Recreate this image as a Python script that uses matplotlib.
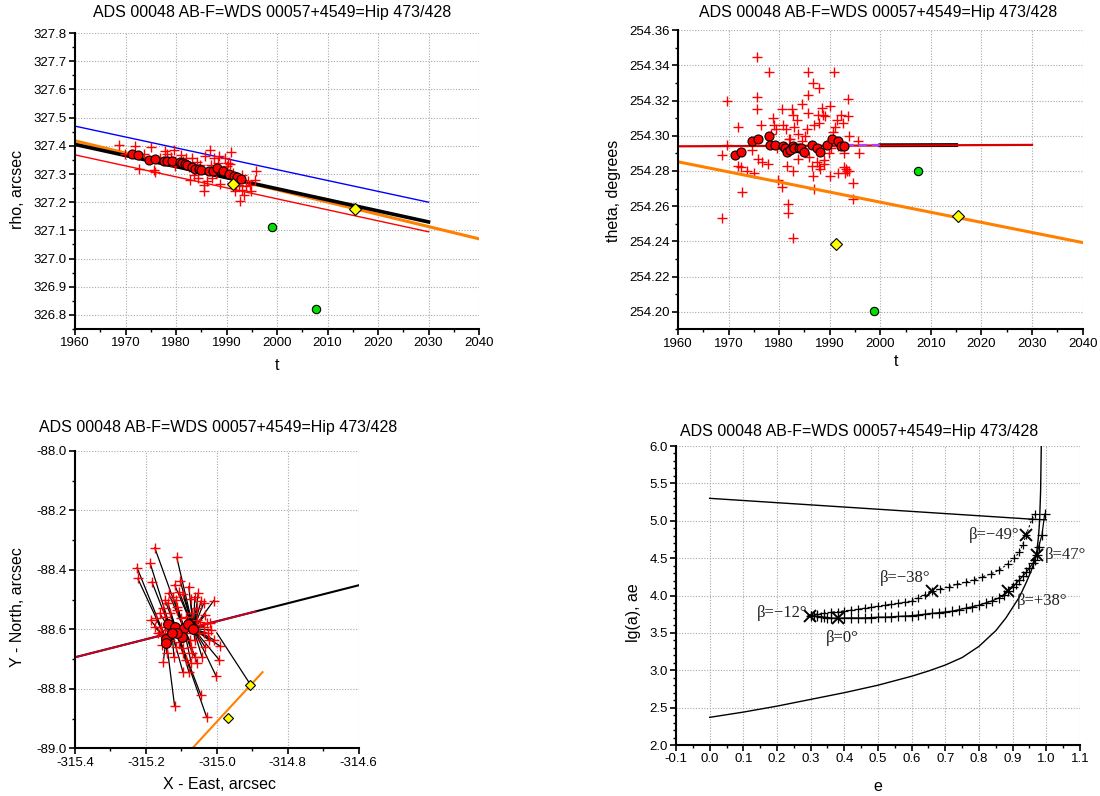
import numpy as np
import matplotlib
matplotlib.use('Agg')
import matplotlib.pyplot as plt
from matplotlib.ticker import MultipleLocator, FormatStrFormatter

plt.rcParams['font.family'] = ['Liberation Sans', 'DejaVu Sans']
plt.rcParams['axes.unicode_minus'] = False

TITLE = "ADS 00048 AB-F=WDS 00057+4549=Hip 473/428"

# ---------------- Panel 1: rho vs t ----------------
rho_obs_t = [1968.8, 1969.9, 1971.8, 1972.6, 1973.7, 1975.1, 1975.6, 1975.8, 1976.8, 1977.8,
             1978.2, 1979.1, 1979.7, 1979.9, 1981.0, 1981.3, 1982.0, 1982.6, 1982.7, 1983.1,
             1983.5, 1984.1, 1984.3, 1984.8, 1985.5, 1985.6, 1985.8, 1986.2, 1986.7, 1986.9,
             1987.2, 1987.6, 1987.9, 1988.3, 1988.6, 1988.8, 1989.7, 1990.0, 1990.3, 1990.7,
             1990.9, 1991.0, 1991.2, 1991.6, 1991.9, 1992.1, 1992.4, 1992.6, 1993.0, 1993.1,
             1993.5, 1993.8, 1994.2, 1994.9, 1994.7, 1995.6, 1995.8]
rho_obs = [327.403, 327.372, 327.398, 327.318, 327.371, 327.397, 327.313, 327.308, 327.357, 327.380,
           327.372, 327.360, 327.384, 327.327, 327.368, 327.347, 327.356, 327.325, 327.280, 327.356,
           327.298, 327.341, 327.286, 327.333, 327.262, 327.239, 327.363, 327.274, 327.386, 327.333,
           327.286, 327.357, 327.304, 327.339, 327.363, 327.265, 327.357, 327.327, 327.339, 327.337,
           327.379, 327.268, 327.304, 327.239, 327.256, 327.274, 327.262, 327.203, 327.298, 327.244,
           327.227, 327.256, 327.274, 327.239, 327.262, 327.280, 327.309]
rho_norm_t = [1971.3, 1972.5, 1974.7, 1975.8, 1977.7, 1978.3, 1979.2, 1980.7, 1981.2, 1981.7,
              1982.2, 1983.1, 1983.8, 1984.5, 1985.0, 1986.5, 1987.3, 1988.1, 1989.4, 1990.4,
              1991.5, 1992.1, 1992.8]
rho_norm = [327.372, 327.367, 327.351, 327.352, 327.348, 327.348, 327.348, 327.341, 327.338, 327.334,
            327.331, 327.324, 327.319, 327.317, 327.314, 327.311, 327.311, 327.321, 327.311, 327.301,
            327.294, 327.288, 327.282]
rho_green_t = [1999.0, 2007.7]
rho_green = [327.112, 326.822]
rho_hip_t = [1991.3, 2015.5]
rho_hip = [327.266, 327.175]
rho_blue_t, rho_blue = [1960, 2030], [327.470, 327.200]
rho_red_t, rho_red = [1960, 2030], [327.368, 327.095]
rho_black_t, rho_black = [1960, 2030], [327.405, 327.130]
rho_orange_t, rho_orange = [1960, 2040], [327.418, 327.070]

# ---------------- Panel 2: theta vs t ----------------
th_obs_t = [1968.7, 1968.7, 1969.7, 1969.7, 1971.8, 1971.8, 1972.5, 1972.7, 1973.7, 1974.7,
            1975.1, 1975.6, 1975.6, 1975.6, 1975.8, 1976.5, 1976.7, 1977.7, 1978.0, 1978.4,
            1978.7, 1978.9, 1979.4, 1979.8, 1979.6, 1980.5, 1980.6, 1980.8, 1981.3, 1981.6,
            1981.7, 1981.7, 1981.9, 1982.1, 1982.6, 1982.7, 1982.8, 1982.8, 1983.0, 1983.5,
            1983.7, 1983.8, 1984.5, 1984.6, 1985.2, 1985.5, 1985.7, 1985.8, 1985.8, 1985.9,
            1986.4, 1986.6, 1986.7, 1986.9, 1986.9, 1987.4, 1987.6, 1987.8, 1987.8, 1987.9,
            1988.1, 1988.4, 1988.7, 1988.8, 1988.8, 1989.0, 1989.8, 1990.0, 1990.0, 1990.2,
            1990.7, 1990.9, 1991.0, 1991.4, 1991.6, 1991.6, 1992.3, 1992.6, 1992.8, 1992.8,
            1993.0, 1993.3, 1993.5, 1993.7, 1993.7, 1993.8, 1993.8, 1994.7, 1994.7, 1995.6,
            1995.7]
th_obs = [254.289, 254.253, 254.320, 254.295, 254.305, 254.283, 254.282, 254.268, 254.280, 254.292,
          254.279, 254.345, 254.322, 254.315, 254.287, 254.306, 254.285, 254.284, 254.336, 254.301,
          254.310, 254.306, 254.304, 254.275, 254.293, 254.271, 254.315, 254.306, 254.304, 254.283,
          254.261, 254.256, 254.298, 254.298, 254.315, 254.312, 254.280, 254.242, 254.305, 254.309,
          254.287, 254.301, 254.318, 254.297, 254.300, 254.304, 254.323, 254.336, 254.313, 254.288,
          254.283, 254.277, 254.330, 254.306, 254.270, 254.285, 254.312, 254.327, 254.283, 254.307,
          254.281, 254.316, 254.312, 254.286, 254.284, 254.311, 254.290, 254.317, 254.277, 254.293,
          254.302, 254.336, 254.305, 254.309, 254.294, 254.279, 254.312, 254.307, 254.290, 254.282,
          254.279, 254.281, 254.280, 254.321, 254.311, 254.300, 254.280, 254.273, 254.264, 254.297,
          254.290]
th_norm_t = [1971.3, 1972.5, 1974.7, 1975.8, 1977.9, 1978.2, 1979.2, 1980.7, 1981.1, 1981.6,
             1982.1, 1982.7, 1983.0, 1983.9, 1984.4, 1985.0, 1986.5, 1987.4, 1988.1, 1989.5,
             1990.4, 1991.6, 1992.3, 1992.8]
th_norm = [254.289, 254.291, 254.297, 254.298, 254.300, 254.295, 254.295, 254.294, 254.293, 254.291,
           254.292, 254.294, 254.293, 254.293, 254.293, 254.291, 254.295, 254.293, 254.291, 254.295,
           254.298, 254.297, 254.294, 254.294]
th_green_t = [2007.5, 1998.7]
th_green = [254.280, 254.2005]
th_hip_t = [1991.2, 2015.4]
th_hip = [254.2385, 254.2542]
th_red_t, th_red = [1960, 2030], [254.2940, 254.2948]
th_black_t, th_black = [2000, 2015], [254.2946, 254.2947]
th_purple_t, th_purple = [1993, 2000], [254.2947, 254.2947]
th_orange_t, th_orange = [1960, 2040], [254.2852, 254.2393]

# ---------------- Panel 3: X-Y ----------------
xy_obs_x = [-315.175, -315.225, -315.223, -315.188, -315.183, -315.113, -315.103, -315.119, -315.106, -315.079,
            -315.052, -315.044, -315.009, -315.019, -315.032, -315.037, -315.055, -315.062, -315.074, -315.096,
            -315.124, -315.138, -315.151, -315.161, -315.171, -315.187, -315.175, -315.166, -315.154, -315.151,
            -315.141, -315.121, -315.106, -315.096, -315.086, -315.077, -315.069, -315.062, -315.055, -315.042,
            -315.034, -315.022, -315.025, -315.017, -315.007, -314.991, -314.993, -315.002, -315.045, -315.029,
            -315.119, -315.096, -315.079, -315.072, -315.156, -315.146, -315.131, -315.111, -315.101, -315.086,
            -315.069, -315.057, -315.047, -315.037, -315.027, -315.146, -315.136, -315.116, -315.111, -315.158,
            -315.146, -315.131, -315.116, -315.096, -315.086, -315.072, -315.062, -315.050, -315.037]
xy_obs_y = [-88.326, -88.393, -88.429, -88.378, -88.441, -88.358, -88.438, -88.451, -88.474, -88.457,
            -88.477, -88.504, -88.504, -88.578, -88.551, -88.513, -88.530, -88.490, -88.499, -88.482,
            -88.490, -88.511, -88.530, -88.546, -88.563, -88.569, -88.591, -88.614, -88.653, -88.709,
            -88.681, -88.692, -88.642, -88.664, -88.614, -88.636, -88.681, -88.692, -88.714, -88.692,
            -88.658, -88.636, -88.614, -88.602, -88.636, -88.656, -88.703, -88.757, -88.821, -88.894,
            -88.858, -88.742, -88.742, -88.714, -88.614, -88.558, -88.546, -88.535, -88.563, -88.558,
            -88.546, -88.569, -88.574, -88.591, -88.580, -88.502, -88.479, -88.502, -88.524, -88.591,
            -88.602, -88.636, -88.658, -88.681, -88.703, -88.658, -88.636, -88.614, -88.614]
xy_norm_x = [-315.138, -315.119, -315.143, -315.093, -315.080, -315.066, -315.099, -315.111, -315.126, -315.143]
xy_norm_y = [-88.582, -88.591, -88.634, -88.597, -88.582, -88.598, -88.625, -88.614, -88.614, -88.645]
xy_hip_x = [-314.905, -314.969]
xy_hip_y = [-88.786, -88.899]
hip_link_x = [-314.905, -315.000]
hip_link_y = [-88.786, -88.612]
orbit_x, orbit_y = [-315.4, -314.6], [-88.694, -88.452]
orbit_red_x, orbit_red_y = [-315.4, -314.89], [-88.694, -88.540]
xy_orange_x, xy_orange_y = [-315.069, -314.871], [-89.0, -88.744]
theta_deg = 254.294   # position angle used for the residual direction

# ---------------- Panel 4: e vs lg(a) ----------------
top_e = [0.0, 0.96, 1.0]
top_lg = [5.30, 5.02, 5.012]
low_e = [0.0, 0.1, 0.2, 0.3, 0.4, 0.5, 0.6, 0.65, 0.7, 0.75, 0.8, 0.85, 0.88, 0.9, 0.92,
         0.94, 0.955, 0.965, 0.972, 0.977, 0.98, 0.983, 0.985]
low_lg = [2.37, 2.44, 2.52, 2.61, 2.70, 2.80, 2.92, 2.99, 3.07, 3.17, 3.32, 3.53, 3.70, 3.84, 3.98,
          4.17, 4.33, 4.46, 4.60, 4.80, 5.00, 5.40, 6.00]
neg_e = [0.30, 0.32, 0.34, 0.36, 0.38, 0.40, 0.42, 0.44, 0.46, 0.48, 0.50, 0.52, 0.54, 0.56, 0.58, 0.60,
         0.62, 0.64, 0.66, 0.685, 0.71, 0.735, 0.76, 0.785, 0.81, 0.835, 0.86, 0.885, 0.905, 0.92, 0.93,
         0.94, 0.957, 0.967]
neg_lg = [3.74, 3.75, 3.76, 3.775, 3.785, 3.795, 3.805, 3.815, 3.83, 3.84, 3.855, 3.87, 3.88, 3.895, 3.91, 3.93,
          3.97, 4.01, 4.06, 4.09, 4.12, 4.15, 4.18, 4.21, 4.25, 4.29, 4.34, 4.42, 4.50, 4.58, 4.68,
          4.81, 5.02, 5.09]
pos_e = [0.30, 0.31, 0.32, 0.33, 0.34, 0.35, 0.36, 0.38, 0.40, 0.42, 0.44, 0.46, 0.48, 0.50, 0.52, 0.54,
         0.56, 0.58, 0.60, 0.62, 0.64, 0.66, 0.68, 0.70, 0.72, 0.74, 0.76, 0.78, 0.80, 0.82, 0.84, 0.86,
         0.873, 0.886, 0.90, 0.91, 0.92, 0.93, 0.94, 0.95, 0.96, 0.966, 0.972, 0.977, 0.987, 0.995]
pos_lg = [3.73, 3.725, 3.72, 3.715, 3.71, 3.705, 3.70, 3.695, 3.70, 3.70, 3.70, 3.70, 3.705, 3.71, 3.71, 3.715,
          3.72, 3.725, 3.73, 3.74, 3.75, 3.76, 3.77, 3.78, 3.79, 3.81, 3.83, 3.85, 3.87, 3.90, 3.93, 3.97,
          4.01, 4.065, 4.11, 4.16, 4.21, 4.26, 4.31, 4.37, 4.43, 4.48, 4.54, 4.65, 4.81, 5.09]
beta_e = [0.299, 0.380, 0.660, 0.940, 0.886, 0.972]
beta_lg = [3.72, 3.695, 4.065, 4.81, 4.065, 4.542]
beta_text = ["β=−12°", "β=0°", "β=−38°", "β=−49°", "β=+38°", "β=47°"]
beta_text_e = [0.292, 0.344, 0.507, 0.769, 0.913, 0.996]
beta_text_lg = [3.76, 3.43, 4.23, 4.81, 3.92, 4.54]
beta_text_ha = ['right', 'left', 'left', 'left', 'left', 'left']

# ---------------- Figure ----------------
W, H = 1100, 796
fig = plt.figure(figsize=(W / 100, H / 100), dpi=100)


def axrect(l, r, t, b):
    return [l / W, 1 - b / H, (r - l) / W, (b - t) / H]


GRID = dict(color='#a8a8a8', linestyle=(0, (1, 1.5)), linewidth=0.8)


def style(ax, xmaj, xmin, ymaj, ymin, xfmt, yfmt):
    ax.spines['top'].set_visible(False)
    ax.spines['right'].set_visible(False)
    for s in ('left', 'bottom'):
        ax.spines[s].set_linewidth(1.5)
    ax.xaxis.set_major_locator(MultipleLocator(xmaj))
    ax.xaxis.set_minor_locator(MultipleLocator(xmin))
    ax.yaxis.set_major_locator(MultipleLocator(ymaj))
    ax.yaxis.set_minor_locator(MultipleLocator(ymin))
    ax.xaxis.set_major_formatter(FormatStrFormatter(xfmt))
    ax.yaxis.set_major_formatter(FormatStrFormatter(yfmt))
    ax.tick_params(which='major', direction='out', length=4, width=1.2, labelsize=9.5, pad=2)
    ax.tick_params(which='minor', direction='out', length=2.5, width=1.0)
    ax.grid(True, which='major', **GRID)
    ax.set_axisbelow(True)


def labels(ax, xl, yl, xpos, ypos):
    ax.set_xlabel(xl, fontsize=11.5)
    ax.set_ylabel(yl, fontsize=11.5)
    ax.xaxis.set_label_coords(*xpos)
    ax.yaxis.set_label_coords(*ypos)
    ax.xaxis.label.set_verticalalignment('center')
    ax.yaxis.label.set_verticalalignment('center')


# Panel 1
ax1 = fig.add_axes(axrect(75, 479, 33, 329))
style(ax1, 10, 5, 0.1, 0.05, '%d', '%.1f')
ax1.set_xlim(1960, 2040)
ax1.set_ylim(326.75, 327.8005)
ax1.plot(rho_blue_t, rho_blue, color='#0000ff', lw=1.0)
ax1.plot(rho_red_t, rho_red, color='#ff0000', lw=1.0)
ax1.plot(rho_orange_t, rho_orange, color='#ff8000', lw=2.2)
ax1.plot(rho_black_t, rho_black, color='black', lw=2.6)
ax1.plot(rho_obs_t, rho_obs, '+', color='#ff0000', ms=7, mew=1.0)
ax1.plot(rho_norm_t, rho_norm, 'o', mfc='#ff0000', mec='black', mew=0.8, ms=6.5)
ax1.plot(rho_hip_t, rho_hip, 'D', mfc='#ffff00', mec='black', mew=0.8, ms=6)
ax1.plot(rho_green_t, rho_green, 'o', mfc='#00e000', mec='black', mew=0.8, ms=6)
labels(ax1, 't', 'rho, arcsec', (0.5, -0.122), (-0.142, 0.47))

# Panel 2
ax2 = fig.add_axes(axrect(678, 1082.6, 30, 329.3))
style(ax2, 10, 5, 0.02, 0.01, '%d', '%.2f')
ax2.set_xlim(1960, 2040)
ax2.set_ylim(254.19, 254.3601)
ax2.plot(th_obs_t, th_obs, '+', color='#ff0000', ms=7, mew=1.0)
ax2.plot(th_black_t, th_black, color='black', lw=2.8)
ax2.plot(th_red_t, th_red, color='#d80000', lw=1.6)
ax2.plot(th_purple_t, th_purple, color='#b040ff', lw=1.6, ls=(0, (4, 2)))
ax2.plot(th_orange_t, th_orange, color='#ff8000', lw=2.2)
ax2.plot(th_norm_t, th_norm, 'o', mfc='#ff0000', mec='black', mew=0.8, ms=6.5)
ax2.plot(th_hip_t, th_hip, 'D', mfc='#ffff00', mec='black', mew=0.8, ms=6)
ax2.plot(th_green_t, th_green, 'o', mfc='#00e000', mec='black', mew=0.8, ms=6)
labels(ax2, 't', 'theta, degrees', (0.54, -0.109), (-0.160, 0.462))

# Panel 3
ax3 = fig.add_axes(axrect(75, 358.6, 450.7, 748.3))
style(ax3, 0.2, 0.1, 0.2, 0.1, '%.1f', '%.1f')
ax3.set_xlim(-315.4, -314.6)
ax3.set_ylim(-89.0, -87.9995)
# residual links: each observation is projected onto the orbit line along the
# tangential direction and joined to the normal point nearest to that projection
ox = np.array(xy_obs_x)
oy = np.array(xy_obs_y)
nx = np.array(xy_norm_x)
ny = np.array(xy_norm_y)
slope = (orbit_y[1] - orbit_y[0]) / (orbit_x[1] - orbit_x[0])
th = np.radians(theta_deg)
dx, dy = np.cos(th), -np.sin(th)
tpar = (orbit_y[0] + slope * (ox - orbit_x[0]) - oy) / (dy - slope * dx)
px = ox + tpar * dx
py = oy + tpar * dy
for x0, y0, x1, y1 in zip(ox, oy, px, py):
    k = np.argmin((nx - x1) ** 2 + (ny - y1) ** 2)
    ax3.plot([x0, nx[k]], [y0, ny[k]], color='black', lw=0.9)
ax3.plot(hip_link_x, hip_link_y, color='black', lw=0.9)
ax3.plot(orbit_x, orbit_y, color='black', lw=1.5)
ax3.plot(orbit_red_x, orbit_red_y, color='#d0002a', lw=1.3)
ax3.plot(xy_orange_x, xy_orange_y, color='#ff8000', lw=1.5)
ax3.plot(xy_obs_x, xy_obs_y, '+', color='#ff0000', ms=7, mew=1.0)
ax3.plot(xy_norm_x, xy_norm_y, 'o', mfc='#ff0000', mec='black', mew=0.8, ms=7)
ax3.plot(xy_hip_x, xy_hip_y, 'D', mfc='#ffff00', mec='black', mew=0.8, ms=5.5)
labels(ax3, 'X - East, arcsec', 'Y - North, arcsec', (0.509, -0.123), (-0.203, 0.476))

# Panel 4
ax4 = fig.add_axes(axrect(676, 1080, 446, 745))
style(ax4, 0.1, 0.05, 0.5, 0.1, '%.1f', '%.1f')
ax4.set_xlim(-0.1, 1.1)
ax4.set_ylim(2.0, 6.0)
ax4.plot(top_e, top_lg, color='black', lw=1.0)
ax4.plot(low_e, low_lg, color='black', lw=1.0)
ax4.plot(neg_e, neg_lg, color='black', lw=0.8, ls=(0, (2, 2)), marker='+', ms=6, mew=0.9)
ax4.plot(pos_e, pos_lg, color='black', lw=0.9, marker='+', ms=7, mew=0.9)
ax4.plot(beta_e, beta_lg, 'x', color='black', ms=8, mew=1.4)
for s, xe, yl, ha in zip(beta_text, beta_text_e, beta_text_lg, beta_text_ha):
    ax4.text(xe, yl, s, ha=ha, va='center', fontsize=12, color='#222222',
             family=['Liberation Serif', 'DejaVu Serif'], clip_on=False)
labels(ax4, 'e', 'lg(a), ae', (0.5, -0.139), (-0.106, 0.443))

# Titles
for (cx, cy) in [(272, 12), (877.7, 12.3), (218, 427.7), (859, 431.7)]:
    fig.text(cx / W, 1 - cy / H, TITLE, ha='center', va='center', fontsize=11.5)

fig.savefig('out.png', dpi=100)
